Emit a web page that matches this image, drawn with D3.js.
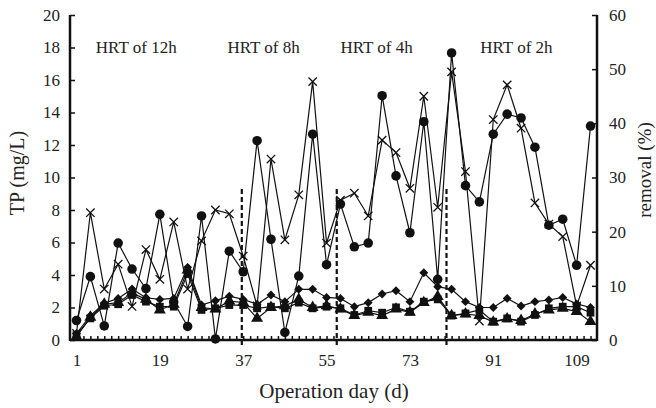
<!DOCTYPE html>
<html lang="en">
<head>
  <meta charset="UTF-8">
  <title>TP and removal</title>
  <script src="https://d3js.org/d3.v7.min.js"></script>
  <style>
    body { margin: 0; background: #fff; }
    text { font-family: "Liberation Serif", "DejaVu Serif", serif; fill: #222; }
    .axis path { display: none; }
    .axis line { stroke: #111; stroke-width: 1.5; }
    .axis text { font-size: 17px; }
  </style>
</head>
<body>
  <svg width="656" height="408"></svg>

  <script>
    const days = [1, 4, 7, 10, 13, 16, 19, 22, 25, 28, 31, 34, 37, 40, 43, 46, 49, 52, 55,
      58, 61, 64, 67, 70, 73, 76, 79, 82, 85, 88, 91, 94, 97, 100, 103, 106, 109, 112];

    // removal (%), right axis
    const circleRemoval = [3.6, 11.7, 2.6, 17.9, 13.1, 9.5, 23.2, 7.0, 2.5, 22.9, 0.2, 16.4, 12.6,
      36.8, 18.6, 1.4, 11.8, 38.0, 13.9, 25.1, 17.2, 17.9, 45.1, 30.3, 19.8, 40.3, 11.2,
      53.0, 28.5, 25.5, 38.0, 41.7, 41.0, 35.6, 21.2, 22.3, 13.8, 39.5];
    const crossRemoval = [1.2, 23.5, 9.4, 14.0, 6.2, 16.7, 11.2, 21.8, 9.4, 18.3, 24.0, 23.3, 15.5,
      6.3, 33.4, 18.5, 26.8, 47.7, 17.9, 25.8, 27.1, 22.9, 36.9, 34.6, 28.0, 45.0, 24.5,
      49.5, 31.1, 3.5, 40.7, 47.1, 39.1, 25.3, 21.4, 19.1, 6.3, 13.8];

    // TP (mg/L), left axis
    const diamondTP = [0.4, 1.5, 2.26, 2.56, 3.14, 2.6, 2.5, 2.56, 4.47, 2.15, 2.42, 2.7, 2.5,
      2.2, 2.77, 2.36, 3.12, 3.12, 2.62, 2.56, 2.05, 2.3, 2.83, 3.03, 2.36, 4.14, 3.28,
      3.12, 2.36, 2.0, 2.0, 2.56, 2.09, 2.36, 2.46, 2.62, 2.22, 2.0];
    const squareTP = [0.3, 1.33, 2.11, 2.2, 2.77, 2.36, 2.05, 2.05, 4.06, 1.85, 1.95, 2.15, 2.15,
      1.95, 2.05, 1.95, 2.3, 1.95, 2.05, 1.95, 1.54, 1.8, 1.68, 2.01, 1.74, 2.36, 2.5,
      1.5, 1.64, 1.85, 1.13, 1.33, 1.13, 1.54, 1.95, 2.05, 2.05, 1.68];
    const triangleTP = [0.2, 1.4, 2.2, 2.3, 2.9, 2.5, 1.85, 2.2, 4.3, 2.0, 1.9, 2.4, 2.3,
      1.33, 2.0, 2.1, 2.5, 2.0, 2.1, 1.9, 1.5, 1.7, 1.5, 1.9, 1.7, 2.3, 2.67,
      1.5, 1.6, 1.5, 1.1, 1.3, 1.2, 1.6, 1.85, 1.95, 1.75, 1.13];

    const dayLabels = [1, 19, 37, 55, 73, 91, 109];
    const tpTicks = [0, 2, 4, 6, 8, 10, 12, 14, 16, 18, 20];
    const removalTicks = [0, 10, 20, 30, 40, 50, 60];
    const phaseBreaks = [36.7, 57.2, 80.9];
    const phaseBreakTop = 9.3;
    const phaseNames = ['HRT of 12h', 'HRT of 8h', 'HRT of 4h', 'HRT of 2h'];
    const phaseLabelDays = [13.9, 41.4, 65.8, 96.0];

    const plotL = 70, plotR = 597, plotT = 15, plotB = 340;

    const svg = d3.select('svg');

    const x = d3.scaleLinear().domain([-0.4, 113.4]).range([plotL, plotR]);
    const yTP = d3.scaleLinear().domain([0, 20]).range([plotB, plotT]);
    const yRem = d3.scaleLinear().domain([0, 60]).range([plotB, plotT]);

    // axes
    svg.append('g')
      .attr('class', 'axis')
      .attr('transform', `translate(${plotL},0)`)
      .call(d3.axisLeft(yTP).tickValues(tpTicks).tickSize(-5).tickPadding(10));

    svg.append('g')
      .attr('class', 'axis')
      .attr('transform', `translate(${plotR},0)`)
      .call(d3.axisRight(yRem).tickValues(removalTicks).tickSize(-5).tickPadding(12));

    const minorDays = d3.range(1, 113.4, 1.5);
    svg.append('g')
      .attr('class', 'axis')
      .attr('transform', `translate(0,${plotB})`)
      .call(d3.axisBottom(x).tickValues(minorDays).tickSize(-4).tickPadding(14)
        .tickFormat(d => dayLabels.includes(d) ? d : ''));

    // frame lines (left, right, bottom)
    const frame = svg.append('g').attr('stroke', '#111').attr('stroke-width', 2.5).attr('fill', 'none');
    frame.append('line').attr('x1', plotL).attr('x2', plotL).attr('y1', plotT).attr('y2', plotB + 1);
    frame.append('line').attr('x1', plotR).attr('x2', plotR).attr('y1', plotT).attr('y2', plotB + 1);
    frame.append('line').attr('x1', plotL).attr('x2', plotR).attr('y1', plotB).attr('y2', plotB);

    // phase separators
    svg.selectAll('.phase')
      .data(phaseBreaks)
      .enter()
      .append('line')
      .attr('x1', d => x(d)).attr('x2', d => x(d))
      .attr('y1', yTP(phaseBreakTop)).attr('y2', plotB + 5)
      .attr('stroke', '#111')
      .attr('stroke-width', 2.2)
      .attr('stroke-dasharray', '5,3');

    svg.selectAll('.phase-label')
      .data(phaseNames)
      .enter()
      .append('text')
      .attr('x', (d, i) => x(phaseLabelDays[i]))
      .attr('y', 53)
      .attr('text-anchor', 'middle')
      .style('font-size', '17px')
      .text(d => d);

    // series
    const crossPath = s => `M${-s},${-s}L${s},${s}M${-s},${s}L${s},${-s}`;
    const series = [
      { values: circleRemoval, y: yRem, shape: 'circle' },
      { values: crossRemoval, y: yRem, shape: 'cross' },
      { values: diamondTP, y: yTP, shape: 'diamond' },
      { values: squareTP, y: yTP, shape: 'square' },
      { values: triangleTP, y: yTP, shape: 'triangle' }
    ];

    series.forEach(s => {
      const pts = days.map((d, i) => [x(d), s.y(s.values[i])]);
      const g = svg.append('g');
      g.append('path')
        .attr('d', d3.line()(pts))
        .attr('fill', 'none')
        .attr('stroke', '#111')
        .attr('stroke-width', 1.2);

      const m = g.selectAll('.m')
        .data(pts)
        .enter()
        .append('path')
        .attr('transform', p => `translate(${p[0]},${p[1]})` + (s.shape === 'diamond' ? ' rotate(45)' : ''));

      if (s.shape === 'cross') {
        m.attr('d', crossPath(4.2)).attr('fill', 'none').attr('stroke', '#111').attr('stroke-width', 1.3);
      } else {
        const type = { circle: d3.symbolCircle, diamond: d3.symbolSquare, square: d3.symbolSquare, triangle: d3.symbolTriangle }[s.shape];
        const size = { circle: 72, diamond: 40, square: 60, triangle: 62 }[s.shape];
        m.attr('d', d3.symbol().type(type).size(size)).attr('fill', '#111');
      }
    });

    // axis titles
    svg.append('text')
      .attr('transform', 'translate(24,173) rotate(-90)')
      .attr('text-anchor', 'middle')
      .style('font-size', '20px')
      .text('TP (mg/L)');

    svg.append('text')
      .attr('transform', 'translate(651,170) rotate(-90)')
      .attr('text-anchor', 'middle')
      .style('font-size', '19px')
      .text('removal (%)');

    svg.append('text')
      .attr('x', 334)
      .attr('y', 398)
      .attr('text-anchor', 'middle')
      .style('font-size', '21px')
      .text('Operation day (d)');
  </script>
</body>
</html>
